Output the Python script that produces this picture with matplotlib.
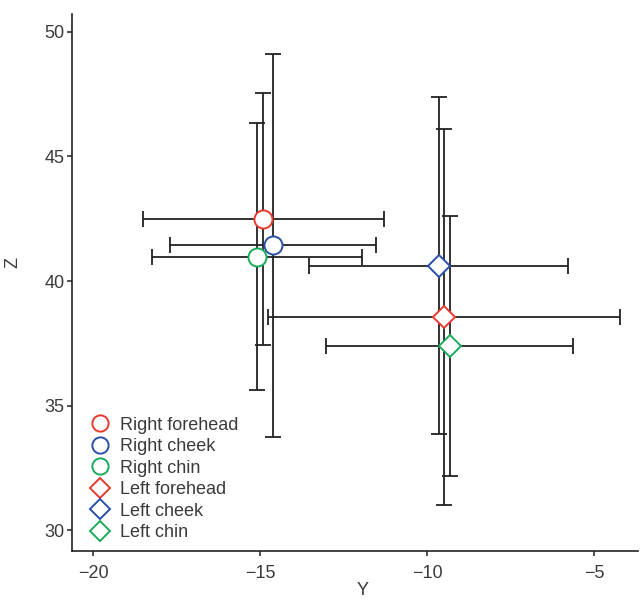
import matplotlib
matplotlib.use("Agg")
import matplotlib.pyplot as plt

plt.rcParams['font.family'] = ['Liberation Sans', 'DejaVu Sans']

labels = ["Right forehead", "Right cheek", "Right chin",
          "Left forehead", "Left cheek", "Left chin"]
y_mean = [-14.9, -14.62, -15.1, -9.5, -9.65, -9.32]
z_mean = [42.5, 41.44, 40.97, 38.56, 40.62, 37.38]
y_err = [3.6, 3.08, 3.14, 5.27, 3.87, 3.70]
z_err = [5.06, 7.68, 5.36, 7.55, 6.76, 5.21]
colors = ["#e8392e", "#2a4fa8", "#1aab5a", "#e8392e", "#2a4fa8", "#1aab5a"]
markers = ["o", "o", "o", "D", "D", "D"]
sizes = [13, 13, 13, 11, 11, 11]

fig = plt.figure(figsize=(6.4, 6.03), dpi=100)
ax = fig.add_axes([0.112, 0.086, 0.885, 0.891])

# error bars first, markers on top
for i in range(len(labels)):
    ax.errorbar(y_mean[i], z_mean[i], xerr=y_err[i], yerr=z_err[i],
                fmt="none", ecolor="#222222", elinewidth=1.3,
                capsize=6, capthick=1.3, zorder=2)
for i in range(len(labels)):
    ax.plot(y_mean[i], z_mean[i], marker=markers[i], ms=sizes[i],
            mfc="white", mec=colors[i], mew=1.4, ls="none",
            label=labels[i], zorder=3)

ax.set_xlim(-20.64, -3.68)
ax.set_ylim(29.16, 50.72)
ax.set_xticks([-20, -15, -10, -5])
ax.set_yticks([30, 35, 40, 45, 50])
ax.set_xticklabels(["\u221220", "\u221215", "\u221210", "\u22125"])

for s in ["top", "right"]:
    ax.spines[s].set_visible(False)
for s in ["left", "bottom"]:
    ax.spines[s].set_linewidth(1.2)
    ax.spines[s].set_color("#222222")
ax.tick_params(direction="out", length=3.8, width=1.1, color="#222222",
               labelsize=13, labelcolor="#3a3a3a")
ax.tick_params(axis="y", pad=1.5)
ax.tick_params(axis="x", pad=6)

ax.set_xlabel("Y", fontsize=13, color="#3a3a3a")
ax.set_ylabel("Z", fontsize=13, color="#3a3a3a")
ax.xaxis.set_label_coords(0.514, -0.058)
ax.yaxis.set_label_coords(-0.088, 0.537)

leg = ax.legend(loc="lower left", frameon=False, fontsize=13,
                labelspacing=0.25, handletextpad=0.5, handlelength=1.2,
                borderaxespad=0, bbox_to_anchor=(0.019, 0.005),
                markerscale=0.9)
for t in leg.get_texts():
    t.set_color("#3a3a3a")

fig.savefig("out.png", dpi=100)
